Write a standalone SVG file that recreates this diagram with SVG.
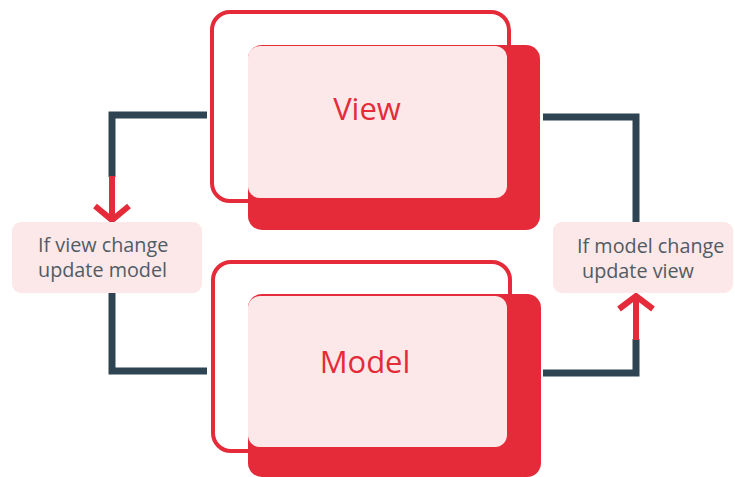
<svg xmlns="http://www.w3.org/2000/svg" width="735" height="477" viewBox="0 0 735 477">
<style>
.shadow{fill:#e52b39;}
.outline{fill:none;stroke:#e52b39;stroke-width:4;}
.face{fill:#fce8e8;}
.title{font-family:"Open Sans","Noto Sans",sans-serif;font-size:31px;fill:#e52b39;text-anchor:middle;}
.lbox{fill:#fce8e8;}
.ltext{font-family:"Open Sans","Noto Sans",sans-serif;font-size:19.8px;fill:#515b65;}
.dark{fill:none;stroke:#2f4452;stroke-width:7;stroke-linejoin:miter;}
.red{fill:none;stroke:#e52b39;stroke-width:6;}
.head{fill:none;stroke:#e52b39;stroke-width:6;stroke-linejoin:miter;stroke-miterlimit:10;}
</style>
<rect width="735" height="477" fill="#ffffff"/>
<g id="connectors">
  <polyline class="dark" points="207,115 112,115 112,177"/>
  <line class="red" x1="112" y1="176" x2="112" y2="219"/>
  <polyline class="head" points="95,206 112,220 129,206"/>
  <polyline class="dark" points="112,293 112,371 207,371"/>
  <polyline class="dark" points="543,117 636,117 636,222"/>
  <polyline class="dark" points="543,373 636,373 636,339"/>
  <line class="red" x1="636" y1="340" x2="636" y2="297"/>
  <polyline class="head" points="619,309 636,296 653,309"/>
</g>
<g id="view">
  <rect class="shadow" x="248" y="45" width="292" height="185" rx="14"/>
  <rect class="outline" x="212" y="12" width="297" height="189" rx="18"/>
  <rect class="face" x="248" y="46" width="259" height="152" rx="12"/>
  <text class="title" x="367" y="120">View</text>
</g>
<g id="model">
  <rect class="shadow" x="248" y="294" width="293" height="183" rx="14"/>
  <rect class="outline" x="213" y="262" width="297" height="189" rx="18"/>
  <rect class="face" x="248" y="296" width="259" height="151" rx="12"/>
  <text class="title" x="365" y="373">Model</text>
</g>
<g id="label-left">
  <rect class="lbox" x="12" y="222" width="190" height="71" rx="9"/>
  <text class="ltext" x="38" y="252">If view change</text>
  <text class="ltext" x="38" y="277">update model</text>
</g>
<g id="label-right">
  <rect class="lbox" x="553" y="222" width="180" height="71" rx="9"/>
  <text class="ltext" x="577" y="253">If model change</text>
  <text class="ltext" x="582" y="278">update view</text>
</g>
</svg>
